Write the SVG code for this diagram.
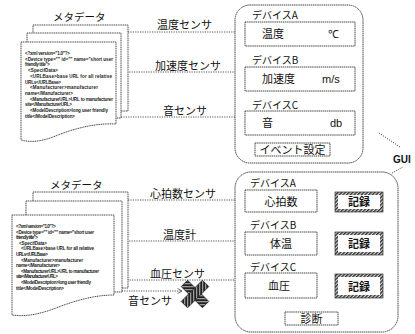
<svg xmlns="http://www.w3.org/2000/svg" width="415" height="334" viewBox="0 0 415 334">
<style>
.jp{font-family:"Noto Sans CJK JP","Noto Sans",sans-serif;fill:#111}
.lat{font-family:"Liberation Sans",Arial,sans-serif;fill:#111}
.xml{font-family:"Liberation Sans",Arial,sans-serif;font-size:4.6px;font-weight:bold;fill:#222}
.dot{fill:#fff;stroke:#333;stroke-width:0.9;stroke-dasharray:1.2 0.6}
.box{fill:#fff;stroke:#333;stroke-width:0.9;stroke-dasharray:1.5 0.6}
.conn{fill:none;stroke:#444;stroke-width:0.9;stroke-dasharray:1.2 1.2}
.lbl{font-size:11px}
.dev{font-size:10px}
.val{font-size:11px}
</style>
<defs>
<pattern id="hatch" width="2.6" height="2.6" patternUnits="userSpaceOnUse" patternTransform="rotate(45)">
<rect width="2.6" height="2.6" fill="#ddd"/><rect width="1.4" height="2.6" fill="#333"/>
</pattern>
<pattern id="hatchX" width="3" height="3" patternUnits="userSpaceOnUse" patternTransform="rotate(45)">
<rect width="3" height="3" fill="#bbb"/><rect width="2" height="3" fill="#222"/>
</pattern>
<marker id="arr" markerWidth="6" markerHeight="6" refX="5" refY="3" orient="auto" markerUnits="userSpaceOnUse">
<path d="M0.5,0.5 L5,3 L0.5,5.5" fill="none" stroke="#444" stroke-width="0.8"/>
</marker>
</defs>
<rect width="415" height="334" fill="#fff"/>

<!-- connectors -->
<g id="connectors">
<path class="conn" d="M128,32 H244" marker-end="url(#arr)"/>
<path class="conn" d="M122,72 H244" marker-end="url(#arr)"/>
<path class="conn" d="M121,117 H244" marker-end="url(#arr)"/>
<path class="conn" d="M128,200 H244" marker-end="url(#arr)"/>
<path class="conn" d="M122,241 H244" marker-end="url(#arr)"/>
<path class="conn" d="M120,280 H244" marker-end="url(#arr)"/>
<path class="conn" d="M117,291 H182" marker-end="url(#arr)"/>
<path class="conn" d="M379,133 L400,147"/>
<path class="conn" d="M392,173 L403,167"/>
<text class="jp lbl" x="157" y="29">温度センサ</text>
<text class="jp lbl" x="155" y="70">加速度センサ</text>
<text class="jp lbl" x="163" y="115">音センサ</text>
<text class="jp lbl" x="150" y="198">心拍数センサ</text>
<text class="jp lbl" x="163" y="239">温度計</text>
<text class="jp lbl" x="150" y="278">血圧センサ</text>
<text class="jp lbl" x="128" y="305">音センサ</text>
</g>

<!-- top metadata -->
<g id="meta-top">
<text class="jp" x="53" y="21" font-size="10.5">メタデータ</text>
<rect class="dot" x="33" y="25" width="95" height="86"/>
<rect class="dot" x="27" y="33" width="94" height="85"/>
<path class="dot" d="M21,42 H116 V124 C96,123 76,128 58,135 C44,141 32,143 21,140 Z"/>
<text class="xml" x="25" y="55" textLength="45">&lt;?xml version="1.0"?&gt;</text>
<text class="xml" x="25" y="60.7" textLength="88">&lt;Device type="" id="" name="short user</text>
<text class="xml" x="25" y="66.4" textLength="25">friendly title"&gt;</text>
<text class="xml" x="28" y="72.1" textLength="30">&lt;SpecifData&gt;</text>
<text class="xml" x="30" y="77.8" textLength="82">&lt;URLBase&gt;base URL for all relative</text>
<text class="xml" x="25" y="83.5" textLength="36">URLs&lt;/URLBase&gt;</text>
<text class="xml" x="30" y="89.2" textLength="68">&lt;Manufacturer&gt;manufacturer</text>
<text class="xml" x="25" y="94.9" textLength="48">name&lt;/Manufacturer&gt;</text>
<text class="xml" x="30" y="100.6" textLength="83">&lt;ManufacturerURL&gt;URL to manufacturer</text>
<text class="xml" x="25" y="106.3" textLength="47">site&lt;/ManufacturerURL&gt;</text>
<text class="xml" x="30" y="112" textLength="78">&lt;ModelDescription&gt;long user friendly</text>
<text class="xml" x="25" y="117.7" textLength="50">title&lt;/ModelDescription&gt;</text>
</g>

<!-- bottom metadata -->
<g id="meta-bottom">
<text class="jp" x="50" y="189" font-size="10.5">メタデータ</text>
<rect class="dot" x="33" y="192" width="95" height="96"/>
<rect class="dot" x="26" y="201" width="96" height="91"/>
<path class="dot" d="M12,215 H114 V295 C94,295 74,301 56,308 C40,314 26,317 12,315 Z"/>
<text class="xml" x="16" y="228" textLength="40">&lt;?xml version="1.0"?&gt;</text>
<text class="xml" x="16" y="233.6" textLength="78">&lt;Device type="" id="" name="short user</text>
<text class="xml" x="16" y="239.2" textLength="22">friendly title"&gt;</text>
<text class="xml" x="19" y="244.8" textLength="28">&lt;SpecifData&gt;</text>
<text class="xml" x="21" y="250.4" textLength="73">&lt;URLBase&gt;base URL for all relative</text>
<text class="xml" x="16" y="256" textLength="32">URLs&lt;/URLBase&gt;</text>
<text class="xml" x="21" y="261.6" textLength="62">&lt;Manufacturer&gt;manufacturer</text>
<text class="xml" x="16" y="267.2" textLength="44">name&lt;/Manufacturer&gt;</text>
<text class="xml" x="21" y="272.8" textLength="78">&lt;ManufacturerURL&gt;URL to manufacturer</text>
<text class="xml" x="16" y="278.4" textLength="42">site&lt;/ManufacturerURL&gt;</text>
<text class="xml" x="21" y="284" textLength="70">&lt;ModelDescription&gt;long user friendly</text>
<text class="xml" x="16" y="289.6" textLength="48">title&lt;/ModelDescription&gt;</text>
</g>

<!-- blocked sound sensor -->
<g id="blocked">
<rect x="180" y="289.5" width="30" height="9" fill="url(#hatchX)" stroke="#222" stroke-width="0.8" transform="rotate(45 195 294)"/>
<rect x="180" y="289.5" width="30" height="9" fill="url(#hatchX)" stroke="#222" stroke-width="0.8" transform="rotate(-45 195 294)"/>
</g>

<!-- top GUI panel -->
<g id="gui-top">
<rect class="box" x="235" y="5" width="128" height="158" rx="15"/>
<text class="jp dev" x="252" y="19">デバイスA</text>
<rect class="box" x="245" y="22" width="110" height="24"/>
<text class="jp val" x="262" y="38">温度</text>
<text class="lat val" x="328" y="38">℃</text>
<text class="jp dev" x="252" y="64">デバイスB</text>
<rect class="box" x="245" y="67" width="110" height="24"/>
<text class="jp val" x="262" y="83">加速度</text>
<text class="lat val" x="322" y="83">m/s</text>
<text class="jp dev" x="252" y="109">デバイスC</text>
<rect class="box" x="245" y="111" width="110" height="24"/>
<text class="jp val" x="262" y="127">音</text>
<text class="lat val" x="330" y="127">db</text>
<rect class="box" x="255" y="143" width="75" height="13"/>
<text class="jp val" x="292.5" y="154" text-anchor="middle">イベント設定</text>
</g>

<g id="gui-label">
<text class="lat" x="393" y="163" font-size="10" font-weight="bold">GUI</text>
</g>

<!-- bottom GUI panel -->
<g id="gui-bottom">
<rect class="box" x="235" y="172" width="163" height="160" rx="16"/>
<text class="jp dev" x="250" y="187">デバイスA</text>
<rect class="box" x="245" y="190" width="72" height="22"/>
<text class="jp val" x="281" y="205.5" text-anchor="middle">心拍数</text>
<text class="jp dev" x="250" y="229">デバイスB</text>
<rect class="box" x="245" y="232" width="72" height="23"/>
<text class="jp val" x="281" y="248" text-anchor="middle">体温</text>
<text class="jp dev" x="250" y="271">デバイスC</text>
<rect class="box" x="245" y="273" width="72" height="25"/>
<text class="jp val" x="279" y="290" text-anchor="middle">血圧</text>
<rect class="box" x="285" y="312" width="53" height="13"/>
<text class="jp val" x="311.5" y="323" text-anchor="middle">診断</text>
</g>

<g id="rec-a">
<rect x="336.5" y="193.5" width="45" height="17" fill="#fff" stroke="url(#hatch)" stroke-width="3"/>
<rect x="335" y="192" width="48" height="20" fill="none" stroke="#333" stroke-width="0.7"/>
<text class="jp val" x="359" y="206" text-anchor="middle" font-weight="bold">記録</text>
</g>
<g id="rec-b">
<rect x="336.5" y="233.5" width="45" height="20" fill="#fff" stroke="url(#hatch)" stroke-width="3"/>
<rect x="335" y="232" width="48" height="23" fill="none" stroke="#333" stroke-width="0.7"/>
<text class="jp val" x="359" y="248" text-anchor="middle" font-weight="bold">記録</text>
</g>
<g id="rec-c">
<rect x="336.5" y="275.5" width="45" height="21" fill="#fff" stroke="url(#hatch)" stroke-width="3"/>
<rect x="335" y="274" width="48" height="24" fill="none" stroke="#333" stroke-width="0.7"/>
<text class="jp val" x="359" y="290.5" text-anchor="middle" font-weight="bold">記録</text>
</g>
</svg>
